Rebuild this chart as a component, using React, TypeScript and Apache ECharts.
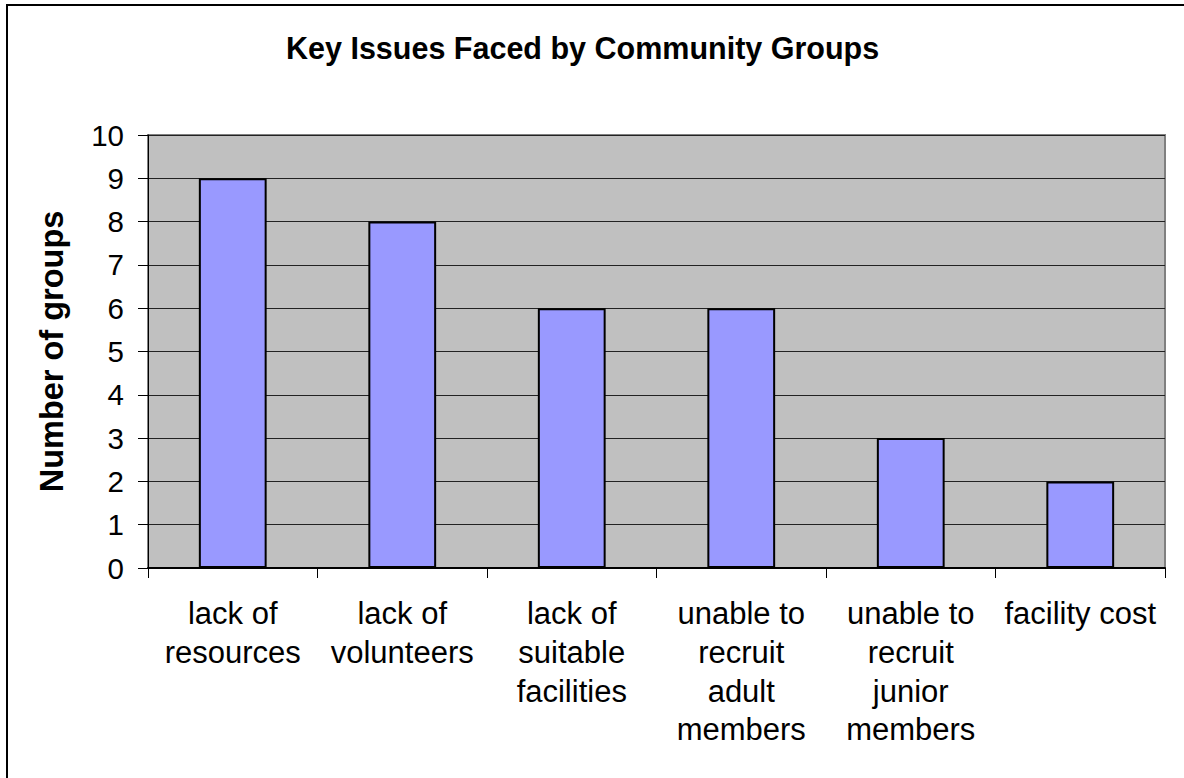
import React, { useEffect, useRef } from "react";
import * as echarts from "echarts";

const categories = [
  "lack of\nresources",
  "lack of\nvolunteers",
  "lack of\nsuitable\nfacilities",
  "unable to\nrecruit\nadult\nmembers",
  "unable to\nrecruit\njunior\nmembers",
  "facility cost",
];
const values = [9, 8, 6, 6, 3, 2];
const titleText = "Key Issues Faced by Community Groups";
const yAxisName = "Number of groups";

export default function App() {
  const ref = useRef<HTMLDivElement>(null);
  useEffect(() => {
    if (!ref.current) return;
    const chart = echarts.init(ref.current, null, { renderer: "svg" });
    const font = "Arial, 'Liberation Sans', sans-serif";
    chart.setOption({
      animation: false,
      backgroundColor: "#fff",
      graphic: [
        {
          type: "rect",
          shape: { x: 7, y: 5, width: 1200, height: 800 },
          style: { fill: "none", stroke: "#000", lineWidth: 2 },
          silent: true,
          z: 100,
        },
      ],
      title: {
        text: titleText,
        left: 281,
        top: 27,
        textStyle: { fontFamily: font, fontSize: 30.5, fontWeight: "bold", color: "#000" },
      },
      grid: {
        left: 148,
        top: 135,
        width: 1017,
        height: 433,
        show: true,
        backgroundColor: "#C0C0C0",
        borderColor: "#808080",
        borderWidth: 2,
      },
      xAxis: {
        type: "category",
        data: categories,
        axisLine: { show: true, lineStyle: { color: "#000", width: 2 } },
        axisTick: { show: true, alignWithLabel: false, length: 10, lineStyle: { color: "#000" } },
        axisLabel: {
          interval: 0,
          margin: 26,
          fontFamily: font,
          fontSize: 31,
          color: "#000",
          lineHeight: 38.8,
          align: "center",
        },
        splitLine: { show: false },
      },
      yAxis: {
        type: "value",
        min: 0,
        max: 10,
        interval: 1,
        name: yAxisName,
        nameLocation: "middle",
        nameGap: 80,
        nameTextStyle: { fontFamily: font, fontSize: 32.5, fontWeight: "bold", color: "#000" },
        axisLine: { show: true, lineStyle: { color: "#000", width: 1 } },
        axisTick: { show: true, length: 10, lineStyle: { color: "#000" } },
        axisLabel: { margin: 24, fontFamily: font, fontSize: 29.5, color: "#000" },
        splitLine: { show: true, lineStyle: { color: "#222", width: 1 } },
      },
      series: [
        {
          type: "bar",
          data: values,
          barWidth: "40%",
          itemStyle: { color: "#9999FF", borderColor: "#000", borderWidth: 2 },
        },
      ],
    });
    return () => chart.dispose();
  }, []);
  return (
    <div
      ref={ref}
      style={{ position: "fixed", left: 0, top: 0, width: 1184, height: 778 }}
    />
  );
}
